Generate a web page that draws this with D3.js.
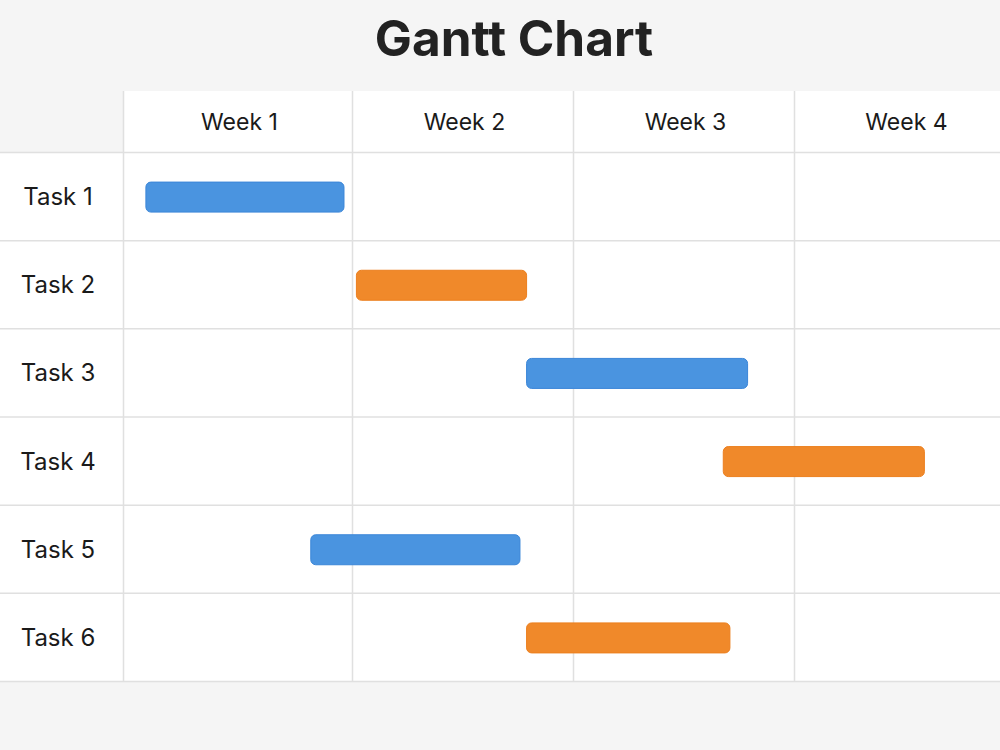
<!DOCTYPE html>
<html>
<head>
<meta charset="utf-8">
<script src="https://cdn.jsdelivr.net/npm/d3@7"></script>
<style>
  body { margin: 0; background: #f5f5f5; }
  svg { display: block; font-family: Inter, "Noto Sans", sans-serif; }
</style>
</head>
<body>
<div id="container"></div>
<script>
/* CONSTANTS AND GLOBALS */
const width = 1000,
  height = 750;

// DATA
const weeks = ['Week 1', 'Week 2', 'Week 3', 'Week 4'];
const tasks = ['Task 1', 'Task 2', 'Task 3', 'Task 4', 'Task 5', 'Task 6'];
const starts = [0.10, 1.02, 1.79, 2.68, 0.82, 1.79]; // in weeks
const ends = [0.965, 1.79, 2.79, 3.59, 1.76, 2.71];
const colors = ['#4a94e0', '#f0892a', '#4a94e0', '#f0892a', '#4a94e0', '#f0892a'];
const strokes = ['#3b86d8', '#ec7f1e', '#3b86d8', '#ec7f1e', '#3b86d8', '#ec7f1e'];

const headTop = 91, headBottom = 152, gridBottom = 681, labelW = 123;

// SCALES
const xScale = d3.scaleLinear()
  .domain([0, 1, 2, 3, 4])
  .range([labelW, 352, 573, 794, 1015]);

const yScale = d3.scaleBand()
  .domain(tasks)
  .range([headBottom, gridBottom]);

// CREATE SVG ELEMENT
const svg = d3.select('#container')
  .append('svg')
  .attr('width', width)
  .attr('height', height);

svg.append('text')
  .attr('x', 514)
  .attr('y', 56)
  .attr('text-anchor', 'middle')
  .attr('font-size', 49.5)
  .attr('font-weight', 700)
  .attr('fill', '#222')
  .text('Gantt Chart');

// header + body backgrounds
svg.append('rect')
  .attr('x', labelW).attr('y', headTop)
  .attr('width', width - labelW).attr('height', headBottom - headTop)
  .attr('fill', '#fff');
svg.append('rect')
  .attr('x', 0).attr('y', headBottom)
  .attr('width', width).attr('height', gridBottom - headBottom)
  .attr('fill', '#fff');

// GRID
svg.selectAll('.hline')
  .data(tasks.concat(['end']))
  .join('line')
  .attr('class', 'hline')
  .attr('x1', 0).attr('x2', width)
  .attr('y1', (d, i) => i < tasks.length ? yScale(d) + 0.5 : gridBottom + 0.5)
  .attr('y2', (d, i) => i < tasks.length ? yScale(d) + 0.5 : gridBottom + 0.5)
  .attr('stroke', '#e0e0e0')
  .attr('stroke-width', 1.5);

svg.selectAll('.vline')
  .data(d3.range(4))
  .join('line')
  .attr('class', 'vline')
  .attr('x1', d => xScale(d) + 0.5).attr('x2', d => xScale(d) + 0.5)
  .attr('y1', headTop).attr('y2', gridBottom)
  .attr('stroke', '#e0e0e0')
  .attr('stroke-width', 1.5);

// WEEK LABELS
svg.selectAll('.week')
  .data(weeks)
  .join('text')
  .attr('class', 'week')
  .attr('x', (d, i) => xScale(i + 0.5) + 2)
  .attr('y', (headTop + headBottom) / 2 + 8)
  .attr('text-anchor', 'middle')
  .attr('font-size', 23)
  .attr('fill', '#1a1a1a')
  .text(d => d);

// TASK LABELS
svg.selectAll('.task')
  .data(tasks)
  .join('text')
  .attr('class', 'task')
  .attr('x', 58)
  .attr('y', d => yScale(d) + yScale.bandwidth() / 2 + 9)
  .attr('text-anchor', 'middle')
  .attr('font-size', 24)
  .attr('fill', '#1a1a1a')
  .text(d => d);

// BARS
const barH = 30;
svg.selectAll('.bar')
  .data(tasks)
  .join('rect')
  .attr('class', 'bar')
  .attr('x', (d, i) => xScale(starts[i]))
  .attr('y', d => yScale(d) + yScale.bandwidth() / 2 - barH / 2 + 1)
  .attr('width', (d, i) => xScale(ends[i]) - xScale(starts[i]))
  .attr('height', barH)
  .attr('rx', 5)
  .attr('fill', (d, i) => colors[i])
  .attr('stroke', (d, i) => strokes[i])
  .attr('stroke-width', 1);
</script>
</body>
</html>
